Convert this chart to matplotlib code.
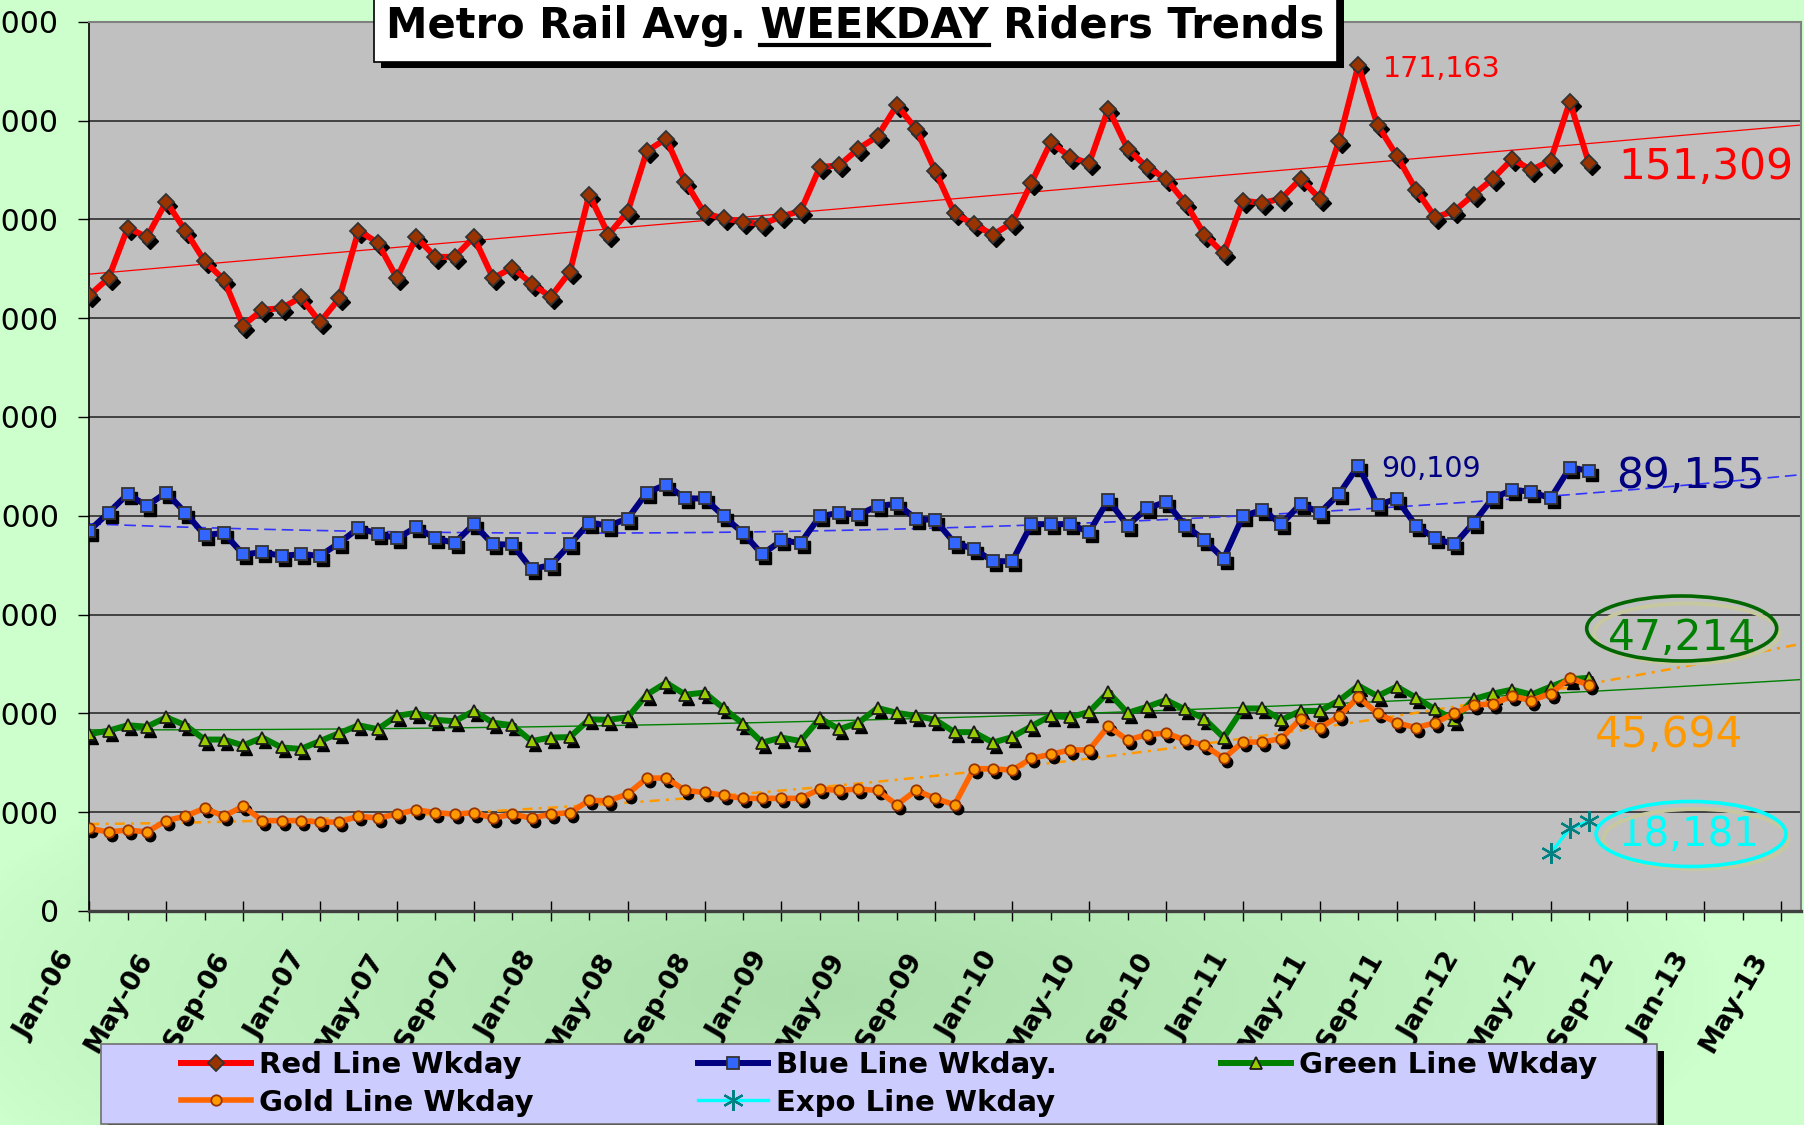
import numpy as np
import matplotlib
matplotlib.use('Agg')
import matplotlib.pyplot as plt
import matplotlib.transforms as mtransforms
from matplotlib.patches import Rectangle, Ellipse
from matplotlib.lines import Line2D
from matplotlib.ticker import FuncFormatter

# monthly weekday averages, first point = Jan-06
red = [124600, 128100, 138300, 136400, 143600, 137700, 131500, 127800, 118500, 121700,
       122000, 124200, 119200, 124000, 137700, 135300, 128100, 136400, 132400, 132400,
       136400, 128100, 130200, 127000, 124300, 129400, 145000, 136900, 141500, 153800,
       156300, 147600, 141200, 140200, 139500, 139000, 140600, 141700, 150600, 150900,
       154300, 156800, 163100, 158300, 149800, 141200, 139000, 136900, 139300, 147400,
       155600, 152700, 151300, 162400, 154300, 150600, 148200, 143400, 136900, 133100,
       143800, 143300, 144200, 148200, 144200, 155900, 171163, 159100, 152900, 146000,
       140400, 141700, 145000, 148200, 152200, 150000, 151900, 163800, 151309]
blue = [77000, 80600, 84400, 82000, 84700, 80600, 76100, 76500, 72200, 72600,
        71900, 72200, 71900, 74500, 77500, 76400, 75400, 77700, 75400, 74500,
        78300, 74200, 74200, 69200, 70000, 74200, 78600, 78000, 79400, 84700,
        86300, 83500, 83500, 79900, 76500, 72200, 75000, 74500, 79900, 80600,
        80200, 82000, 82400, 79400, 79100, 74500, 73300, 70800, 70800, 78300,
        78300, 78300, 76700, 83200, 78000, 81500, 82800, 78000, 75100, 71300,
        79900, 81200, 78300, 82400, 80600, 84400, 90109, 82200, 83400, 78000,
        75400, 74200, 78600, 83600, 85200, 84900, 83500, 89700, 89155]
green = [35800, 36500, 37600, 37300, 39200, 37600, 34700, 34700, 33500, 35100,
         33100, 32800, 34400, 36000, 37600, 36800, 39500, 40100, 38700, 38400,
         40500, 38100, 37600, 34400, 35100, 35200, 38800, 38700, 39200, 43800,
         46200, 43800, 44200, 41000, 37900, 34100, 35100, 34400, 39000, 36800,
         38100, 41100, 40100, 39500, 38700, 36200, 36200, 34100, 35200, 37400,
         39500, 39200, 40300, 44300, 40100, 41300, 42700, 40800, 38900, 35100,
         41000, 41000, 38700, 40500, 40500, 42600, 45600, 43500, 45400, 43200,
         40800, 38700, 42900, 44000, 44800, 43800, 45400, 46900, 47214]
gold = [16700, 16000, 16400, 16000, 18300, 19200, 20800, 19200, 21200, 18300,
        18300, 18300, 18000, 18000, 19200, 18800, 19600, 20500, 19900, 19600,
        19900, 18800, 19600, 18800, 19600, 19900, 22400, 22300, 23700, 26900,
        26900, 24400, 24000, 23400, 22800, 22800, 22800, 22800, 24700, 24400,
        24700, 24400, 21500, 24400, 22800, 21500, 28800, 28800, 28500, 30900,
        31700, 32600, 32600, 37400, 34600, 35700, 36000, 34600, 33500, 30900,
        34200, 34200, 34900, 38900, 37100, 39400, 43300, 40000, 38100, 37100,
        38100, 40000, 41700, 41900, 43500, 42600, 44000, 47200, 45694]
expo = [11700, 16700, 18181]
expo_months = [76, 77, 78]   # May-12 .. Jul-12

tick_labels = ['Jan-06', 'May-06', 'Sep-06', 'Jan-07', 'May-07', 'Sep-07', 'Jan-08', 'May-08',
               'Sep-08', 'Jan-09', 'May-09', 'Sep-09', 'Jan-10', 'May-10', 'Sep-10', 'Jan-11',
               'May-11', 'Sep-11', 'Jan-12', 'May-12', 'Sep-12', 'Jan-13', 'May-13']
last_month = 89

W, H = 1804, 1125
fig = plt.figure(figsize=(W / 100, H / 100), dpi=100)
fig.patch.set_facecolor('#CCFFCC')

# soft green background shading
bg = fig.add_axes([0, 0, 1, 1], zorder=-10)
yy, xx = np.mgrid[0:H:5, 0:W:5]
d = np.sqrt(((xx - 820) / 900.0) ** 2 + ((yy - 990) / 300.0) ** 2)
t = np.clip(1 - d, 0, 1) ** 0.8
light = np.array([204, 255, 204]) / 255.0
dark = np.array([172, 222, 172]) / 255.0
bg.imshow(light + (dark - light) * t[..., None], extent=(0, 1, 0, 1), aspect='auto')
bg.axis('off')

ax = fig.add_axes([89.3 / W, 1 - 911 / H, (1800.5 - 89.3) / W, (911 - 21.7) / H])
ax.set_facecolor('#C0C0C0')
ax.set_xlim(0, last_month)
ax.set_ylim(0, 180000)
ax.set_yticks(np.arange(0, 180001, 20000))
ax.yaxis.set_major_formatter(FuncFormatter(lambda v, p: f'{v:,.0f}'))
ax.grid(axis='y', color='#202020', lw=1.1)
ax.set_axisbelow(True)

for side in ['top', 'right']:
    ax.spines[side].set_color('#808080')
    ax.spines[side].set_linewidth(1.5)
ax.spines['left'].set_color('black')
ax.spines['left'].set_linewidth(1.2)
ax.spines['bottom'].set_color('#404040')
ax.spines['bottom'].set_linewidth(2.4)

ax.set_xticks(np.arange(0, last_month, 4))
ax.set_xticklabels(tick_labels, rotation=60, ha='right', fontsize=19.5, fontweight='bold')
ax.set_xticks(np.arange(2, last_month, 4), minor=True)
ax.tick_params(axis='x', which='major', direction='inout', length=15, width=1, pad=19)
ax.tick_params(axis='x', which='minor', direction='out', length=6.5, width=1)
ax.tick_params(axis='y', direction='out', length=8, width=1, pad=14, labelsize=21.5)
shift = mtransforms.ScaledTranslation(-8 / 100, 0, fig.dpi_scale_trans)
for lbl in ax.get_xticklabels():
    lbl.set_transform(lbl.get_transform() + shift)

x = np.arange(len(red))
xt = np.arange(last_month + 1)
shadow = ax.transData + mtransforms.ScaledTranslation(3 / 100, -4 / 100, fig.dpi_scale_trans)

# trend lines
ax.plot(xt, np.polyval(np.polyfit(x, red, 1), xt), color='#FF0000', lw=0.9, zorder=2.5)
ax.plot(xt, np.polyval(np.polyfit(x, blue, 2), xt), color='#3333FF', lw=1.2,
        ls=(0, (7, 3.5)), zorder=2.5)
ax.plot(xt, np.polyval(np.polyfit(x, green, 2), xt), color='#008000', lw=1, zorder=2.5)
ax.plot(xt, np.polyval(np.polyfit(x, gold, 2), xt), color='#FF9900', lw=1.8,
        ls=(0, (4, 2.5, 1.2, 2.5)), zorder=2.5)

series = [
    (x, red, '#FF0000', 4.3, 'D', 8.3, '#993300', '#333333', 'Red Line Wkday'),
    (x, blue, '#000080', 4.3, 's', 8.6, '#3366FF', '#333333', 'Blue Line Wkday.'),
    (x, green, '#008000', 4.3, '^', 9, '#99CC00', '#1A1A1A', 'Green Line Wkday'),
    (x, gold, '#FF6600', 4.0, 'o', 7.5, '#FF9900', '#993300', 'Gold Line Wkday'),
]
handles = {}
z = 3
for xs, vals, col, lw, mk, ms, fc, ec, name in series:
    ax.plot(xs, vals, ls='none', marker=mk, ms=ms, mfc='black', mec='black',
            transform=shadow, zorder=z)
    handles[name], = ax.plot(xs, vals, color=col, lw=lw, marker=mk, ms=ms, mfc=fc,
                             mec=ec, mew=1.3, zorder=z + 0.5, label=name)
    z += 1
handles['Expo Line Wkday'], = ax.plot(expo_months, expo, color='#00FFFF', lw=2.4,
                                      marker=(6, 2, 0), ms=15, mec='#008080', mew=1.6,
                                      zorder=z, label='Expo Line Wkday')

# value call-outs
def callout(xm, val, text, dx, dy, color, size):
    ax.annotate(text, (xm, val), xytext=(dx, dy), textcoords='offset pixels',
                color=color, fontsize=size, ha='left', va='baseline', zorder=10)

callout(66, red[66], '171,163', 25, -12, '#FF0000', 20.5)
callout(78, red[-1], '151,309', 29, -16, '#FF0000', 30.5)
callout(66, blue[66], '90,109', 23, -11.5, '#000080', 20.5)
callout(78, blue[-1], '89,155', 27, -17, '#000080', 30.5)
callout(78, green[-1], '47,214', 18.5, 28, '#008000', 30.5)
callout(78, gold[-1], '45,694', 6, -62, '#FF9900', 30.5)
callout(78, expo[-1], '18,181', 30, -24.5, '#00FFFF', 29)

for cx, cy, ecol in [(1681.7, 628.5, '#006600'), (1691, 834, '#00FFFF')]:
    fig.add_artist(Ellipse(((cx + 5) / W, 1 - (cy + 5) / H), 185 / W, 60 / H,
                           transform=fig.transFigure, fill=False, ec='#C8C8A0', lw=2.8, zorder=9))
    fig.add_artist(Ellipse((cx / W, 1 - cy / H), 190 / W, 65 / H,
                           transform=fig.transFigure, fill=False, ec=ecol, lw=2.6, zorder=9.5))

# title box
fig.add_artist(Rectangle(((374 + 7) / W, 1 - 68 / H), (1337 - 374) / W, 0.2,
                         transform=fig.transFigure, fc='black', ec='none', zorder=11))
fig.add_artist(Rectangle((374 / W, 1 - 62 / H), (1337 - 374) / W, 0.2,
                         transform=fig.transFigure, fc='white', ec='black', lw=1.2, zorder=12))
title_txt = 'Metro Rail Avg. WEEKDAY Riders Trends'
tkw = dict(fontsize=30, fontweight='bold')
title = fig.text(855 / W, 1 - 38 / H, title_txt, ha='center', va='baseline', zorder=13, **tkw)
renderer = fig.canvas.get_renderer()
bb = title.get_window_extent(renderer)
tmp1 = fig.text(0, 0, 'Metro Rail Avg. WEEKDAY', **tkw)
tmp2 = fig.text(0, 0, 'WEEKDAY', **tkw)
u_end = bb.x0 + tmp1.get_window_extent(renderer).width
u_start = u_end - tmp2.get_window_extent(renderer).width
tmp1.remove()
tmp2.remove()
fig.add_artist(Line2D([u_start / W, u_end / W], [1 - 44.5 / H, 1 - 44.5 / H],
                      transform=fig.transFigure, color='black', lw=3, zorder=13))

# legend box
fig.add_artist(Rectangle(((101 + 7) / W, 1 - (1124 + 7) / H), (1657 - 101) / W, 80 / H,
                         transform=fig.transFigure, fc='black', ec='none', zorder=4))
fig.add_artist(Rectangle((101 / W, 1 - 1124 / H), (1657 - 101) / W, 80 / H,
                         transform=fig.transFigure, fc='#CCCCFF', ec='#707070', lw=1.2, zorder=4.5))
order = ['Red Line Wkday', 'Gold Line Wkday', 'Blue Line Wkday.', 'Expo Line Wkday', 'Green Line Wkday']
leg = fig.legend([handles[k] for k in order], order, loc='upper left',
                 bbox_to_anchor=(181 / W, 1 - 1051 / H, (1597 - 181) / W, 0), mode='expand',
                 ncol=3, frameon=False, prop={'weight': 'bold', 'size': 21}, handlelength=2.4,
                 handletextpad=0.27, labelspacing=0.33, borderpad=0, borderaxespad=0, numpoints=1)
leg.set_zorder(6)

fig.savefig('out.png', dpi=100, facecolor=fig.get_facecolor())
